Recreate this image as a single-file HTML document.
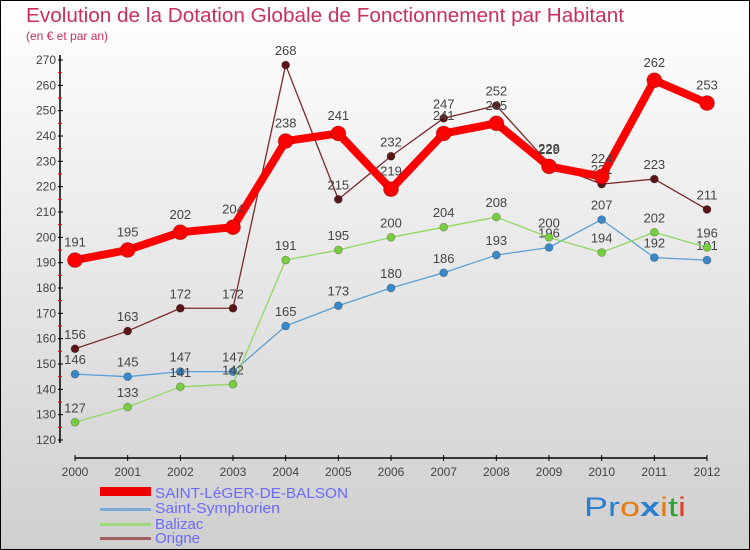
<!DOCTYPE html>
<html><head><meta charset="utf-8"><style>
body{margin:0;width:750px;height:550px;overflow:hidden}
svg{display:block;font-family:"Liberation Sans",sans-serif}
</style></head><body>
<svg id="c" width="750" height="550">
<defs><linearGradient id="bg" x1="0" y1="0" x2="0" y2="1"><stop offset="0" stop-color="#ffffff"/><stop offset="1" stop-color="#cfcfcf"/></linearGradient></defs>
<rect x="0.5" y="0.5" width="749" height="549" fill="url(#bg)" stroke="#000"/>
<text x="26" y="22" font-size="20" fill="#c8305a" textLength="598" lengthAdjust="spacingAndGlyphs">Evolution de la Dotation Globale de Fonctionnement par Habitant</text>
<text x="26" y="40" font-size="12" fill="#c8305a">(en € et par an)</text>
<g id="axes"></g><g id="series"></g>
<g>
<rect x="100" y="487" width="51" height="9" fill="#e00"/>
<text x="155" y="498" font-size="15" fill="#6a6aff" textLength="193" lengthAdjust="spacingAndGlyphs">SAINT-LéGER-DE-BALSON</text>
<rect x="100" y="508" width="51" height="3" fill="#7aaad6"/>
<text x="155" y="513" font-size="15" fill="#6a6aff" textLength="125" lengthAdjust="spacingAndGlyphs">Saint-Symphorien</text>
<rect x="100" y="523" width="51" height="3" fill="#9fd87a"/>
<text x="155" y="529" font-size="15" fill="#6a6aff">Balizac</text>
<rect x="100" y="537" width="51" height="3" fill="#a06060"/>
<text x="155" y="543" font-size="15" fill="#6a6aff">Origne</text>
</g>
<text x="584" y="516" font-size="27" textLength="102" lengthAdjust="spacingAndGlyphs"><tspan fill="#2a7fd0">Pr</tspan><tspan fill="#e87a10">o</tspan><tspan fill="#2a7fd0" font-weight="bold">x</tspan><tspan fill="#e87a10">i</tspan><tspan fill="#30a030">t</tspan><tspan fill="#e0402a">i</tspan></text>
</svg>
<script>
const years=[2000,2001,2002,2003,2004,2005,2006,2007,2008,2009,2010,2011,2012];
const yTicks=[120,130,140,150,160,170,180,190,200,210,220,230,240,250,260,270];
const saintLeger=[191,195,202,204,238,241,219,241,245,228,224,262,253];
const saintSymphorien=[146,145,147,147,165,173,180,186,193,196,207,192,191];
const balizac=[127,133,141,142,191,195,200,204,208,200,194,202,196];
const origne=[156,163,172,172,268,215,232,247,252,229,221,223,211];
const NS='http://www.w3.org/2000/svg';
const X=i=>75+i*(707-75)/(years.length-1);
const Y=v=>440-(v-120)*(380/150);
function mk(t,a,p){const e=document.createElementNS(NS,t);for(const k in a)e.setAttribute(k,a[k]);p.appendChild(e);return e;}
const ax=document.getElementById('axes');
let l=mk('line',{x1:60,y1:55,x2:60,y2:443,stroke:'#000','stroke-width':1.5},ax);


l=mk('line',{x1:75,y1:458,x2:707,y2:458,stroke:'#000','stroke-width':1.5},ax);


yTicks.forEach((v,i)=>{
 mk('line',{x1:58,x2:63,y1:Y(v),y2:Y(v),stroke:'#000'},ax);
 if(i<yTicks.length-1) mk('line',{x1:58,x2:62,y1:Y(v+5),y2:Y(v+5),stroke:'#e00'},ax);
 const t=mk('text',{x:56,y:Y(v)+4,'font-size':12,fill:'#444','text-anchor':'end'},ax);t.textContent=v;
 
 
});
years.forEach((y,i)=>{
 mk('line',{x1:X(i),x2:X(i),y1:455,y2:461,stroke:'#000'},ax);
 const t=mk('text',{x:X(i),y:476,'font-size':12,fill:'#444','text-anchor':'middle'},ax);t.textContent=y;
 
 
});
const sg=document.getElementById('series');
function draw(vals,col,dot,w,r,name){
 const g=mk('g',{},sg);
 
 
 mk('polyline',{points:vals.map((v,i)=>X(i)+','+Y(v)).join(' '),fill:'none',stroke:col,'stroke-width':w,'stroke-linejoin':'round'},g);
 vals.forEach((v,i)=>{
  const c=mk('circle',{cx:X(i),cy:Y(v),r:r,fill:dot,stroke:'rgba(0,0,0,0.25)','stroke-width':0.8},g);
  
  
  const t=mk('text',{x:X(i),y:Y(v)-(r+6),'font-size':13,fill:'#444','text-anchor':'middle'},g);t.textContent=v;
  
  
 });
}
draw(saintSymphorien,'#5a9fd4','#3a88c8',1.3,4,'saint-symphorien');
draw(balizac,'#90d860','#7acc40',1.3,4,'balizac');
draw(origne,'#7a2a2a','#5a1515',1.3,4,'origne');
draw(saintLeger,'#f00','#f00',8,7.5,'saint-leger');
</script>
</body></html>
